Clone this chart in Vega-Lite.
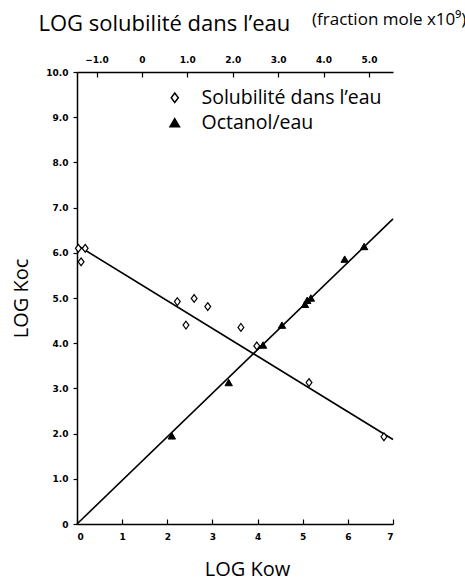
{
  "$schema": "https://vega.github.io/schema/vega-lite/v6.json",
  "width": 316,
  "height": 452,
  "autosize": {"type": "none"},
  "padding": {"left": 77, "top": 72, "right": 72, "bottom": 56},
  "background": "white",
  "title": {
    "text": "(fraction mole x10⁹)",
    "fontSize": 17,
    "font": "Open Sans",
    "fontWeight": "normal",
    "color": "black",
    "anchor": "end",
    "dx": 70,
    "dy": 21
  },
  "config": {
    "view": {"stroke": null},
    "axis": {
      "grid": false,
      "domainColor": "black",
      "domainWidth": 1.5,
      "tickColor": "black",
      "tickWidth": 1.2,
      "labelFont": "DejaVu Sans",
      "labelFontWeight": "bold",
      "labelFontSize": 9,
      "labelColor": "black",
      "titleFont": "Open Sans",
      "titleFontWeight": "normal",
      "titleColor": "black",
      "titleFontSize": 20
    },
    "legend": {
      "labelFont": "Open Sans",
      "labelFontSize": 19.5,
      "labelColor": "black",
      "labelLimit": 400
    }
  },
  "datasets": {
    "sol": [
      {"s": -1.40, "koc": 6.10, "series": "Solubilité dans l’eau"},
      {"s": -1.34, "koc": 5.80, "series": "Solubilité dans l’eau"},
      {"s": -1.25, "koc": 6.10, "series": "Solubilité dans l’eau"},
      {"s": 0.78, "koc": 4.92, "series": "Solubilité dans l’eau"},
      {"s": 0.97, "koc": 4.40, "series": "Solubilité dans l’eau"},
      {"s": 1.15, "koc": 4.99, "series": "Solubilité dans l’eau"},
      {"s": 1.45, "koc": 4.81, "series": "Solubilité dans l’eau"},
      {"s": 2.18, "koc": 4.35, "series": "Solubilité dans l’eau"},
      {"s": 2.53, "koc": 3.94, "series": "Solubilité dans l’eau"},
      {"s": 3.68, "koc": 3.13, "series": "Solubilité dans l’eau"},
      {"s": 5.33, "koc": 1.93, "series": "Solubilité dans l’eau"}
    ],
    "solfit": [
      {"s": -1.40, "koc": 6.15},
      {"s": 5.53, "koc": 1.87}
    ],
    "oct": [
      {"kow": 2.10, "koc": 1.95, "series": "Octanol/eau"},
      {"kow": 3.36, "koc": 3.13, "series": "Octanol/eau"},
      {"kow": 4.12, "koc": 3.96, "series": "Octanol/eau"},
      {"kow": 4.54, "koc": 4.40, "series": "Octanol/eau"},
      {"kow": 5.05, "koc": 4.86, "series": "Octanol/eau"},
      {"kow": 5.10, "koc": 4.95, "series": "Octanol/eau"},
      {"kow": 5.18, "koc": 5.00, "series": "Octanol/eau"},
      {"kow": 5.93, "koc": 5.86, "series": "Octanol/eau"},
      {"kow": 6.36, "koc": 6.14, "series": "Octanol/eau"}
    ],
    "octfit": [
      {"kow": 0, "koc": 0},
      {"kow": 7.0, "koc": 6.75}
    ]
  },
  "resolve": {"scale": {"x": "independent"}, "axis": {"x": "independent"}},
  "layer": [
    {
      "layer": [
        {
          "data": {"name": "solfit"},
          "mark": {"type": "line", "color": "black", "strokeWidth": 1.6},
          "encoding": {
            "x": {"field": "s", "type": "quantitative"},
            "y": {"field": "koc", "type": "quantitative"}
          }
        },
        {
          "data": {"name": "sol"},
          "mark": {"type": "point", "filled": true, "stroke": "black", "strokeWidth": 1.2, "size": 60, "opacity": 1},
          "encoding": {
            "x": {"field": "s", "type": "quantitative"},
            "y": {"field": "koc", "type": "quantitative"},
            "shape": {"field": "series", "type": "nominal"},
            "fill": {"field": "series", "type": "nominal"}
          }
        }
      ],
      "encoding": {
        "x": {
          "field": "s",
          "type": "quantitative",
          "scale": {"domain": [-1.43, 5.53], "nice": false, "zero": false},
          "axis": {
            "orient": "top",
            "values": [-1, 0, 1, 2, 3, 4, 5],
            "labelExpr": "datum.value == 0 ? '0' : format(datum.value, '.1f')",
            "tickSize": -5,
            "labelPadding": 13,
            "title": "LOG solubilité dans l’eau",
            "titleFontSize": 22,
            "titleAnchor": "start",
            "titleX": -39,
            "titlePadding": 20
          }
        }
      }
    },
    {
      "layer": [
        {
          "data": {"name": "octfit"},
          "mark": {"type": "line", "color": "black", "strokeWidth": 1.6},
          "encoding": {
            "x": {"field": "kow", "type": "quantitative"},
            "y": {"field": "koc", "type": "quantitative"}
          }
        },
        {
          "data": {"name": "oct"},
          "mark": {"type": "point", "filled": true, "stroke": "black", "strokeWidth": 1, "size": 55, "opacity": 1},
          "encoding": {
            "x": {"field": "kow", "type": "quantitative"},
            "y": {"field": "koc", "type": "quantitative"},
            "shape": {"field": "series", "type": "nominal"},
            "fill": {"field": "series", "type": "nominal"}
          }
        }
      ],
      "encoding": {
        "x": {
          "field": "kow",
          "type": "quantitative",
          "scale": {"domain": [0, 7], "nice": false},
          "axis": {
            "orient": "bottom",
            "values": [0, 1, 2, 3, 4, 5, 6, 7],
            "format": "d",
            "tickSize": -5,
            "labelPadding": 13,
            "title": "LOG Kow",
            "titlePadding": 18,
            "titleX": 170
          }
        }
      }
    }
  ],
  "encoding": {
    "y": {
      "field": "koc",
      "type": "quantitative",
      "scale": {"domain": [0, 10], "nice": false},
      "axis": {
        "values": [0, 1, 2, 3, 4, 5, 6, 7, 8, 9, 10],
        "labelExpr": "datum.value == 0 ? '0' : format(datum.value, '.1f')",
        "tickSize": 4,
        "labelPadding": 5,
        "title": "LOG Koc",
        "titlePadding": 14
      }
    },
    "shape": {
      "field": "series",
      "type": "nominal",
      "scale": {
        "domain": ["Solubilité dans l’eau", "Octanol/eau"],
        "range": ["M0,-1L0.75,0L0,1L-0.75,0Z", "triangle-up"]
      },
      "legend": {
        "title": null,
        "orient": "none",
        "legendX": 88,
        "legendY": 16,
        "rowPadding": 4,
        "symbolSize": 90,
        "symbolStrokeColor": "black",
        "symbolStrokeWidth": 1.5,
        "labelOffset": 17
      }
    },
    "fill": {
      "field": "series",
      "type": "nominal",
      "scale": {
        "domain": ["Solubilité dans l’eau", "Octanol/eau"],
        "range": ["white", "black"]
      },
      "legend": {
        "title": null,
        "orient": "none",
        "legendX": 88,
        "legendY": 16,
        "rowPadding": 4,
        "symbolSize": 90,
        "symbolStrokeColor": "black",
        "symbolStrokeWidth": 1.5,
        "labelOffset": 17
      }
    }
  }
}
